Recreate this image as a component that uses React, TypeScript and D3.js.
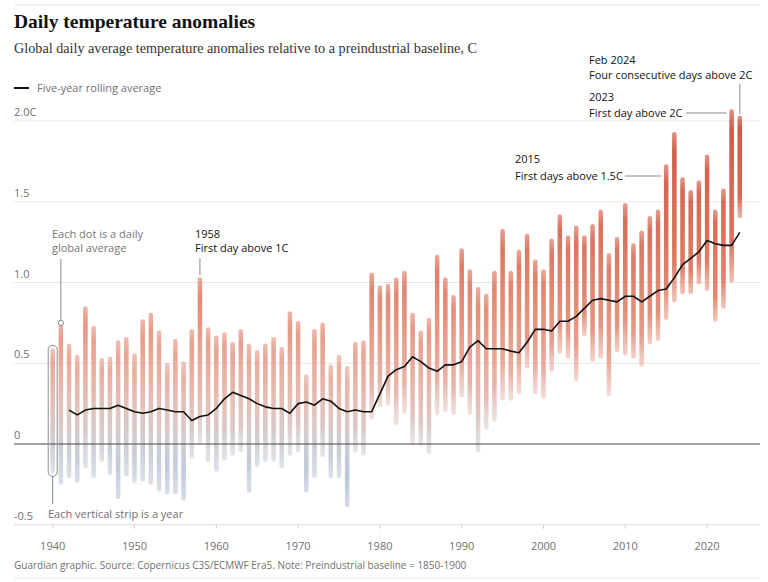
import React from "react";
import * as d3 from "d3";

const years = d3.range(1940, 2025);
const yearMax = [
  0.58, 0.75, 0.61, 0.54, 0.84, 0.72, 0.52, 0.53, 0.63, 0.65,
  0.55, 0.76, 0.80, 0.69, 0.49, 0.64, 0.50, 0.70, 1.02, 0.71,
  0.66, 0.68, 0.62, 0.70, 0.61, 0.57, 0.61, 0.65, 0.59, 0.81,
  0.75, 0.42, 0.70, 0.74, 0.48, 0.54, 0.47, 0.62, 0.63, 1.05,
  0.97, 0.98, 1.02, 1.06, 0.80, 0.69, 0.77, 1.16, 1.02, 0.91,
  1.20, 1.07, 0.96, 0.92, 1.06, 1.32, 1.06, 1.19, 1.29, 1.13,
  1.07, 1.26, 1.41, 1.28, 1.34, 1.28, 1.35, 1.44, 1.17, 1.27,
  1.48, 1.23, 1.31, 1.40, 1.44, 1.72, 1.92, 1.64, 1.56, 1.62,
  1.78, 1.44, 1.57, 2.06, 2.02,
];
const yearMin = [
  -0.17, -0.24, -0.20, -0.23, -0.14, -0.20, -0.10, -0.18, -0.33, -0.19,
  -0.23, -0.22, -0.24, -0.28, -0.30, -0.30, -0.34, -0.08, 0.01, -0.10,
  -0.16, -0.09, -0.06, -0.04, -0.29, -0.13, -0.10, -0.10, -0.14, -0.06,
  -0.04, -0.29, -0.20, -0.07, -0.20, -0.20, -0.38, -0.04, -0.06, 0.16,
  0.24, 0.25, 0.13, 0.20, 0.01, 0.00, -0.05, 0.19, 0.21, 0.19,
  0.30, 0.19, -0.04, 0.10, 0.15, 0.28, 0.28, 0.32, 0.48, 0.32,
  0.29, 0.46, 0.57, 0.54, 0.40, 0.68, 0.52, 0.54, 0.31, 0.58,
  0.56, 0.54, 0.49, 0.63, 0.65, 0.78, 0.89, 0.94, 0.94, 1.00,
  0.96, 0.77, 0.85, 1.01, 1.41,
];
const rollingYears = d3.range(1942, 2025);
const rollingAvg = [
  0.21, 0.18, 0.21, 0.22, 0.22, 0.22, 0.24, 0.22,
  0.20, 0.19, 0.20, 0.22, 0.21, 0.20, 0.20, 0.145, 0.17, 0.18,
  0.22, 0.28, 0.32, 0.30, 0.28, 0.25, 0.23, 0.22, 0.22, 0.19,
  0.25, 0.26, 0.24, 0.28, 0.265, 0.22, 0.20, 0.21, 0.20, 0.20,
  0.31, 0.42, 0.46, 0.48, 0.54, 0.51, 0.47, 0.45, 0.49, 0.49,
  0.51, 0.60, 0.64, 0.59, 0.59, 0.59, 0.575, 0.565, 0.63, 0.71,
  0.71, 0.70, 0.76, 0.76, 0.79, 0.84, 0.89, 0.90, 0.89, 0.88,
  0.915, 0.915, 0.88, 0.915, 0.95, 0.96, 1.03, 1.11, 1.15, 1.19,
  1.26, 1.24, 1.23, 1.23, 1.31,
];
const yTicks = [-0.5, 0, 0.5, 1.0, 1.5, 2.0];
const yTickLabels = ["-0.5", "0", "0.5", "1.0", "1.5", "2.0C"];
const xTicks = [1940, 1950, 1960, 1970, 1980, 1990, 2000, 2010, 2020];

// value -> colour stops, listed from high value to low value
const colorStops = [2.05, 1.3, 0.8, 0.45, 0.2, 0.0, -0.2, -0.4];
const colorRange = ["#c9432f", "#d6624a", "#e2846c", "#e8a595", "#dfbdb6", "#c9c9cf", "#b3c0d3", "#9fb2cd"];

const W = 768;
const H = 582;
const SANS = "'Open Sans', 'Noto Sans', sans-serif";
const SERIF = "'Liberation Serif', 'DejaVu Serif', serif";

export default function App() {
  const x = d3.scaleLinear().domain([1940, 2024]).range([52.7, 739.8]);
  const y = d3.scaleLinear().domain([0, 2]).range([444, 121]);
  const line = d3
    .line<number>()
    .x((_, i) => x(rollingYears[i]))
    .y((d) => y(d));
  const gTop = y(2.1);
  const gBot = y(-0.45);
  const stripW = 4.6;
  const gridL = 14;
  const gridR = 760;

  return (
    <svg
      width={W}
      height={H}
      style={{ position: "absolute", left: 0, top: 0, background: "#fff" }}
    >
      <defs>
        <linearGradient id="valGrad" gradientUnits="userSpaceOnUse" x1={0} x2={0} y1={gTop} y2={gBot}>
          {colorStops.map((v, i) => (
            <stop key={i} offset={(y(v) - gTop) / (gBot - gTop)} stopColor={colorRange[i]} />
          ))}
        </linearGradient>
        <linearGradient id="fadeGrad" x1={0} x2={0} y1={0} y2={1}>
          <stop offset={0} stopColor="#fff" stopOpacity={0.45} />
          <stop offset={0.15} stopColor="#fff" stopOpacity={0.9} />
          <stop offset={0.75} stopColor="#fff" stopOpacity={0.9} />
          <stop offset={1} stopColor="#fff" stopOpacity={0.35} />
        </linearGradient>
        <mask id="fadeMask" maskUnits="objectBoundingBox" maskContentUnits="objectBoundingBox" x={-0.1} y={-0.05} width={1.2} height={1.1}>
          <rect x={-0.1} y={-0.05} width={1.2} height={1.1} fill="url(#fadeGrad)" />
        </mask>
      </defs>

      {/* frame lines */}
      <line x1={gridL} x2={gridR} y1={5} y2={5} stroke="#e6e6e6" />
      <line x1={gridL} x2={gridR} y1={578} y2={578} stroke="#e6e6e6" />

      {/* title */}
      <text x={14} y={28} fontFamily={SERIF} fontWeight={700} fontSize={19.5} fill="#121212">
        Daily temperature anomalies
      </text>
      <text x={14} y={53} fontFamily={SERIF} fontSize={14.2} fill="#333">
        Global daily average temperature anomalies relative to a preindustrial baseline, C
      </text>

      {/* legend */}
      <line x1={14} x2={29} y1={88} y2={88} stroke="#121212" strokeWidth={2} />
      <text x={37} y={92} fontFamily={SANS} fontSize={11} fill="#707070">
        Five-year rolling average
      </text>

      {/* gridlines */}
      {yTicks.map((t, i) =>
        t === 0 ? null : (
          <line key={i} x1={gridL} x2={gridR} y1={y(t)} y2={y(t)} stroke={t === -0.5 ? "#dcdcdc" : "#e8e8e8"} />
        )
      )}
      {yTicks.map((t, i) => (
        <text key={i} x={14} y={y(t) - 5} fontFamily={SANS} fontSize={11} fill="#707070">
          {yTickLabels[i]}
        </text>
      ))}

      {/* strips */}
      {years.map((yr, i) => (
        <rect
          key={yr}
          x={x(yr) - stripW / 2}
          y={y(yearMax[i]) - 2}
          width={stripW}
          height={y(yearMin[i]) - y(yearMax[i]) + 4}
          rx={stripW / 2}
          fill="url(#valGrad)"
          mask="url(#fadeMask)"
        />
      ))}

      {/* zero line */}
      <line x1={gridL} x2={gridR} y1={y(0)} y2={y(0)} stroke="#444" strokeWidth={1.2} />

      {/* rolling average */}
      <path d={line(rollingAvg) || ""} fill="none" stroke="#121212" strokeWidth={1.6} strokeLinejoin="round" />

      {/* x axis ticks */}
      {xTicks.map((t) => (
        <g key={t}>
          <line x1={x(t)} x2={x(t)} y1={y(-0.5)} y2={y(-0.5) + 4} stroke="#cfcfcf" />
          <text x={x(t)} y={550} textAnchor="middle" fontFamily={SANS} fontSize={11} fill="#707070">
            {t}
          </text>
        </g>
      ))}

      {/* annotations */}
      <text fontFamily={SANS} fontSize={11} fill="#767676">
        <tspan x={52} y={238}>Each dot is a daily</tspan>
        <tspan x={52} y={252}>global average</tspan>
      </text>
      <line x1={x(1941)} x2={x(1941)} y1={259} y2={y(yearMax[1]) - 3} stroke="#8a8a8a" />
      <circle cx={x(1941)} cy={y(yearMax[1])} r={2.6} fill="#fff" stroke="#8a8a8a" strokeWidth={1} />

      <rect
        x={x(1940) - 4.5}
        y={y(yearMax[0]) - 5}
        width={9}
        height={y(yearMin[0]) - y(yearMax[0]) + 10}
        rx={4.5}
        fill="none"
        stroke="#8a8a8a"
        strokeWidth={1}
      />
      <line x1={x(1940)} x2={x(1940)} y1={y(yearMin[0]) + 5} y2={504} stroke="#8a8a8a" />
      <text x={48} y={518} fontFamily={SANS} fontSize={11} fill="#707070">
        Each vertical strip is a year
      </text>

      <text fontFamily={SANS} fontSize={11} fill="#121212">
        <tspan x={195} y={238}>1958</tspan>
        <tspan x={195} y={252}>First day above 1C</tspan>
      </text>
      <line x1={x(1958)} x2={x(1958)} y1={258} y2={y(yearMax[18]) - 4} stroke="#8a8a8a" />

      <text fontFamily={SANS} fontSize={11} fill="#121212">
        <tspan x={515} y={163}>2015</tspan>
        <tspan x={515} y={180}>First days above 1.5C</tspan>
      </text>
      <line x1={625} x2={x(2015) - 5} y1={176} y2={176} stroke="#8a8a8a" />

      <text fontFamily={SANS} fontSize={11} fill="#121212">
        <tspan x={589} y={101}>2023</tspan>
        <tspan x={589} y={117}>First day above 2C</tspan>
      </text>
      <line x1={686} x2={x(2023) - 5} y1={113} y2={113} stroke="#8a8a8a" />

      <text fontFamily={SANS} fontSize={11} fill="#121212">
        <tspan x={589} y={64}>Feb 2024</tspan>
        <tspan x={589} y={79}>Four consecutive days above 2C</tspan>
      </text>
      <line x1={x(2024)} x2={x(2024)} y1={84} y2={y(yearMax[84]) - 4} stroke="#8a8a8a" />

      <text x={14} y={569} fontFamily={SANS} fontSize={10} fill="#707070">
        Guardian graphic. Source: Copernicus C3S/ECMWF Era5. Note: Preindustrial baseline = 1850-1900
      </text>
    </svg>
  );
}
